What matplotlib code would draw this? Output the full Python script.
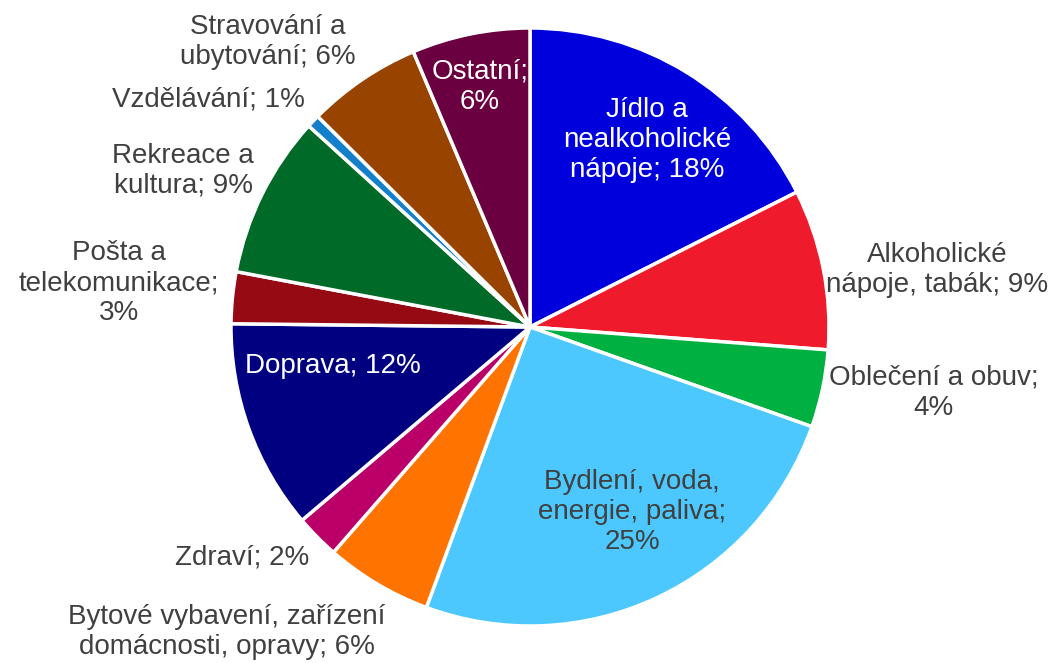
import matplotlib
matplotlib.use("Agg")
import matplotlib.pyplot as plt

plt.rcParams['font.family'] = ['Liberation Sans', 'DejaVu Sans']

categories = ["Jídlo a nealkoholické nápoje", "Alkoholické nápoje, tabák", "Oblečení a obuv",
              "Bydlení, voda, energie, paliva", "Bytové vybavení, zařízení domácnosti, opravy",
              "Zdraví", "Doprava", "Pošta a telekomunikace", "Rekreace a kultura",
              "Vzdělávání", "Stravování a ubytování", "Ostatní"]
shares = [17.6, 8.7, 4.2, 25.3, 5.8, 2.4, 11.4, 2.8, 8.8, 0.7, 6.2, 6.4]
label_texts = ["Jídlo a\nnealkoholické\nnápoje; 18%",
               "Alkoholické\nnápoje, tabák; 9%",
               "Oblečení a obuv;\n4%",
               "Bydlení, voda,\nenergie, paliva;\n25%",
               "Bytové vybavení, zařízení\ndomácnosti, opravy; 6%",
               "Zdraví; 2%",
               "Doprava; 12%",
               "Pošta a\ntelekomunikace;\n3%",
               "Rekreace a\nkultura; 9%",
               "Vzdělávání; 1%",
               "Stravování a\nubytování; 6%",
               "Ostatní;\n6%"]
colors = ["#0000DC", "#EF1B2D", "#00B040", "#4DC8FF", "#FF7300", "#BA0068",
          "#000080", "#960A14", "#006A28", "#1480CC", "#984400", "#6A0040"]

# layout (pixel positions of label centres, top-left origin)
W, H = 1056, 663
label_pos = [(647, 140), (937, 270), (934, 393), (632, 512), (227, 632), (242, 557),
             (333, 366), (119, 283), (183, 171), (208, 100), (268, 42), (480, 87)]
label_col = ["white", "#404040", "#404040", "#404040", "#404040", "#404040",
             "white", "#404040", "#404040", "#404040", "#404040", "white"]

fig = plt.figure(figsize=(W / 100, H / 100), dpi=100)
ax = fig.add_axes([0, 0, 1, 1])
ax.pie(shares, colors=colors, startangle=90, counterclock=False,
       center=(530, H - 327), radius=299,
       wedgeprops=dict(edgecolor="white", linewidth=2.5))
ax.set_xlim(0, W)
ax.set_ylim(0, H)
ax.set_aspect("equal")
ax.axis("off")

for txt, (px, py), c in zip(label_texts, label_pos, label_col):
    ax.text(px, H - py, txt, ha="center", va="center", color=c,
            fontsize=20, linespacing=1.2, multialignment="center")

fig.savefig("out.png", dpi=100)
